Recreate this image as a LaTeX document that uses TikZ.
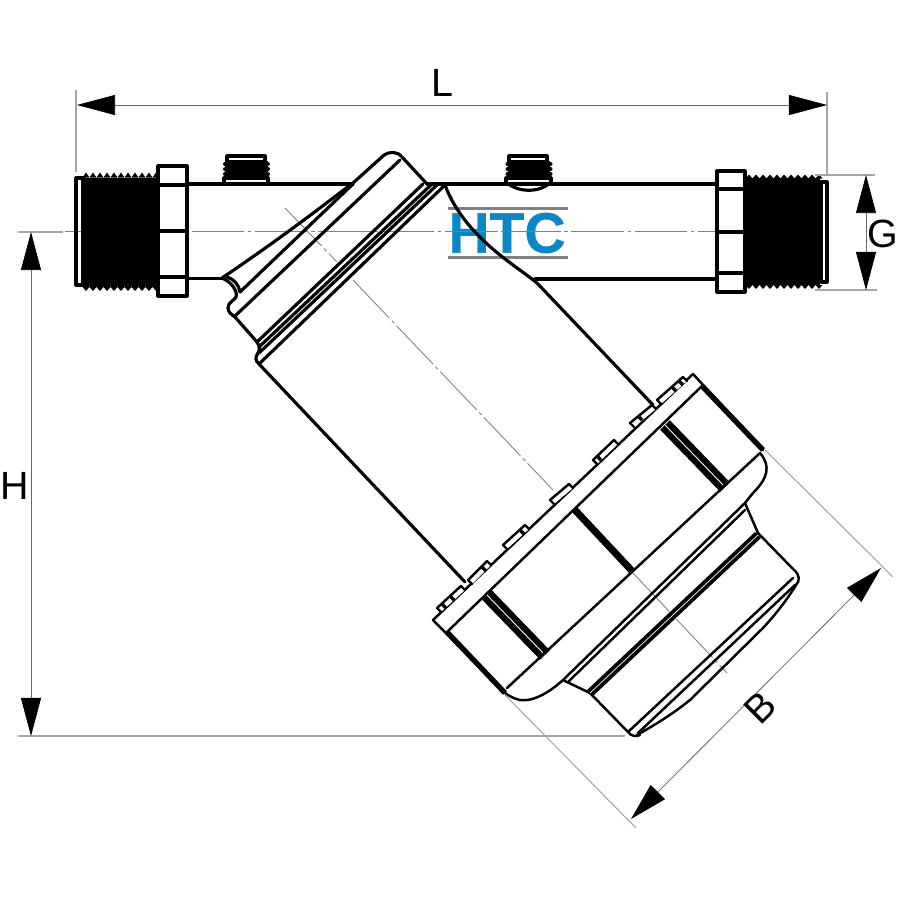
\documentclass[tikz,border=0pt]{standalone}
\usepackage{fontspec}
\setmainfont{Liberation Sans}
\newfontfamily\logofont{Liberation Sans}[BoldFeatures={FakeBold=0.6}]
\usetikzlibrary{arrows.meta}
\definecolor{htcblue}{HTML}{0A87C4}
\tikzset{
  outline/.style={line width=0.9pt,black,line join=round,line cap=round},
  flangeline/.style={line width=0.7pt,black,line join=round,line cap=round},
  barline/.style={line width=1.5pt,black},
  splitbar/.style={line width=1.8pt,black,double=white,double distance=0.25pt},
  axisline/.style={line width=0.25pt,black!50,dash pattern=on 15pt off 1pt on 1pt off 1pt},
  extline/.style={line width=0.3pt,black!35},
  dimline/.style={line width=0.22pt,black!60,{Triangle[length=0.38cm,width=0.2cm,black]}-{Triangle[length=0.38cm,width=0.2cm,black]},shorten <=0pt,shorten >=0pt},
  dimlabel/.style={font=\fontsize{11.2pt}{13pt}\selectfont,inner sep=0pt},
}
\begin{document}
\begin{tikzpicture}[x=0.01cm,y=-0.01cm]
\useasboundingbox (0,0) rectangle (900,900);

\fill[black!50] (448,207) rectangle (568,210);
\fill[black!50] (448,256) rectangle (568,259);
\node[inner sep=0pt,text=htcblue,font=\logofont\bfseries\fontsize{16.2pt}{18pt}\selectfont] (logo) at (507,233) {HTC};

\draw[axisline] (65,231.5) -- (825,231.5);
\draw[axisline] (285,208) -- (337,262);
\draw[axisline] (353,280) -- (553,490);
\draw[axisline] (633,573) -- (727,673);

\fill (83,177.5) rectangle (158,287);
\foreach \x in {86,93,...,156} {
  \fill (\x-3.5,177.5) -- (\x,172.5) -- (\x+3.5,177.5);
  \fill (\x-3.5,287) -- (\x,291) -- (\x+3.5,287);
}
\fill (745,178) rectangle (820,285);
\foreach \x in {749,756,...,819} {
  \fill (\x-3.5,178.5) -- (\x,174.5) -- (\x+3.5,178.5);
  \fill (\x-3.5,285) -- (\x,289) -- (\x+3.5,285);
}
\draw[outline] (76,178) rectangle (83,285);
\draw[outline] (821,182) rectangle (827,282);

\draw[outline] (158,166) rectangle (187,296);
\draw[outline] (158,185) -- (187,185);
\draw[outline] (158,231) -- (187,231);
\draw[outline] (158,277) -- (187,277);
\draw[outline] (717,171) rectangle (745,292);
\draw[outline] (717,189) -- (745,189);
\draw[outline] (717,232) -- (745,232);
\draw[outline] (717,273) -- (745,273);

\draw[outline] (187,184) -- (353,184);
\draw[outline] (187,278.5) -- (222,278.5);
\draw[outline] (427,184) -- (717,184);
\draw[outline] (535,279) -- (717,279);

\fill (225,161) rectangle (268,178);
\foreach \y in {164,169,174} {
  \fill (225,\y) circle[radius=0.02cm];
  \fill (268,\y) circle[radius=0.02cm];
}
\draw[outline] (227,156) rectangle (265,162);
\draw[outline] (224,184) -- (224,178) -- (268,178) -- (268,184);

\fill (508,161) rectangle (550,178);
\foreach \y in {164,169,174} {
  \fill (507.5,\y) circle[radius=0.02cm];
  \fill (550.5,\y) circle[radius=0.02cm];
}
\draw[outline] (509,156) rectangle (547,162);
\draw[outline] (506,184) -- (506,178) -- (551,178) -- (551,184);
\draw[outline] (506,182) .. controls (518,193) and (540,193) .. (551,182);

\draw[outline] (222,278) .. controls (290,232) and (330,200) .. (353,183) -- (383,156) .. controls (389,151) and (397,151) .. (402,157) -- (427,184);
\draw[outline] (353,184) -- (240,292);
\draw[outline] (400,160) -- (235,316);
\draw[outline] (227,277) .. controls (234,279) and (239,285) .. (240,292);
\draw[outline] (222,278) .. controls (232,282) and (238,292) .. (236,297) .. controls (234,301) and (228,302) .. (228,308) .. controls (228,312) and (231,314) .. (235,317) -- (257,342) .. controls (260,346) and (260,350) .. (258,353) .. controls (255,358) and (255,360) .. (259,364) -- (465,582);
\draw[outline] (257,342) -- (423,184);
\draw[outline] (259,347) -- (432,184);
\draw[outline] (259,353) -- (438,184);
\draw[outline] (259,364) -- (445,185);
\draw[outline] (445,185) .. controls (455,212) and (475,235) .. (500,255) .. controls (515,267) and (530,277) .. (537,283) -- (653,405);

\draw[flangeline] (505,693) -- (433,620) -- (693,374) -- (763,450);
\draw[flangeline] (447,632) -- (702,386);
\draw[barline] (447,632) -- (505,693);
\draw[barline] (702,386) -- (763,450);
\draw[splitbar] (487,595) -- (545,655);
\draw[line width=2pt] (575,510) -- (633,572);
\draw[splitbar] (665,425) -- (725,487);
\foreach \xa/\ya/\xb/\yb in {437/608/461/586,468/580/487/561,503/545/525/525,550/500/569/484,593/460/614/440,630/423/652/405,657/400/683/377} {
  \draw[flangeline,fill=white] (\xa+4,\ya+4) -- (\xa,\ya) -- (\xb,\yb) -- (\xb+4,\yb+4);
}
\foreach \x/\y in {442/604,450/596,482/567,520/530,597/456,638/416,672/387,679/381} {
  \draw[line width=1pt] (\x,\y) -- (\x+4,\y+4);
}

\draw[flangeline] (507,688) -- (760,453) .. controls (771,466) and (768,478) .. (753,493) -- (745,503) -- (563,680) .. controls (552,690) and (535,702) .. (520,700) .. controls (515,699) and (509,696) .. (505,693);
\draw[flangeline] (745,510) -- (568,682);
\draw[flangeline] (745,503) -- (748,510) -- (758,533) -- (794,570) .. controls (800,575) and (800,581) .. (796,585);
\draw[flangeline] (563,680) -- (567,682) -- (590,693) -- (628,732) .. controls (631,736) and (636,737) .. (640,735);
\draw[line width=1.1pt,double=white,double distance=0.2pt] (590,693) -- (758,535);
\draw[flangeline] (628,732) -- (793,578);
\draw[flangeline] (638,733) -- (795,585);
\draw[flangeline] (637,735) .. controls (660,722) and (675,712) .. (690,700) -- (763,628) .. controls (775,615) and (787,600) .. (796,585);

\coordinate (Lleft) at (77,105);
\coordinate (Lright) at (827,105);
\coordinate (Gtop) at (866,175);
\coordinate (Gbot) at (866,290);
\coordinate (Htop) at (31,232);
\coordinate (Hbot) at (31,736);
\coordinate (Btop) at (881,568);
\coordinate (Bbot) at (631,819);
\draw[extline] (76,90) -- (76,172);
\draw[extline] (827,92) -- (827,175);
\draw[extline] (815,175) -- (875,175);
\draw[extline] (815,290) -- (877,290);
\draw[extline] (18,232) -- (63,232);
\draw[extline] (18,736) -- (625,736);
\draw[extline] (765,450) -- (893,577);
\draw[extline] (505,695) -- (636,828);
\draw[dimline] (Lleft) -- (Lright);
\draw[dimline] (Gtop) -- (Gbot);
\draw[dimline] (Htop) -- (Hbot);
\draw[dimline] (Btop) -- (Bbot);
\node[dimlabel] (labL) at (442,83) {L};
\node[dimlabel] (labG) at (883,234) {G};
\node[dimlabel] (labH) at (15,486) {H};
\node[dimlabel,rotate=45] (labB) at (760,708) {B};

\end{tikzpicture}
\end{document}
